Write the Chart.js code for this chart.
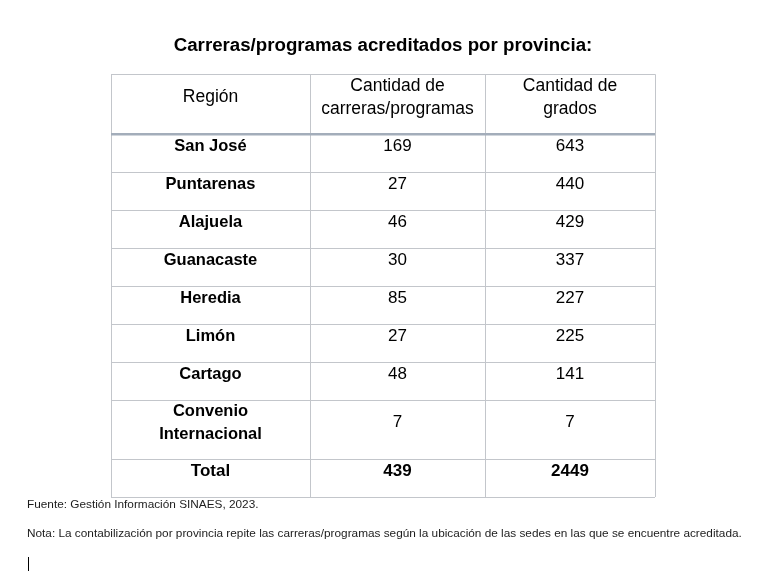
<!DOCTYPE html>
<html lang="es">
<head>
    <meta charset="UTF-8">
    <title>Carreras/programas acreditados por provincia</title>
    <script src="https://cdn.jsdelivr.net/npm/chart.js"></script>
    <style>
        body { margin: 0; background: #fff; }
        #wrap { position: relative; width: 763px; height: 571px; }
        #cursor { position: absolute; left: 28px; top: 557px; width: 1px; height: 14px; background: #000; }
    </style>
</head>
<body>
<div id="wrap">
    <canvas id="tabla" width="763" height="571"></canvas>
    <div id="cursor"></div>
</div>
<script>
    // datos de la tabla
    const encabezados = ['Región', 'Cantidad de\ncarreras/programas', 'Cantidad de\ngrados'];
    const regiones = ['San José', 'Puntarenas', 'Alajuela', 'Guanacaste', 'Heredia', 'Limón', 'Cartago', 'Convenio\nInternacional'];
    const carreras = [169, 27, 46, 30, 85, 27, 48, 7];
    const grados = [643, 440, 429, 337, 227, 225, 141, 7];
    const totales = ['Total', 439, 2449];
    const fuente = 'Fuente: Gestión Información SINAES, 2023.';
    const nota = 'Nota: La contabilización por provincia repite las carreras/programas según la ubicación de las sedes en las que se encuentre acreditada.';

    // bordes de columnas y filas (en unidades de la escala)
    const bordesCol = [0, 199, 374, 544];
    const bordesFila = [0, 60, 98, 136, 174, 212, 250, 288, 326, 385, 423];

    const FAMILIA = "'Liberation Sans', Arial, sans-serif";
    const colMid = c => (bordesCol[c] + bordesCol[c + 1]) / 2;
    const filaMid = r => (bordesFila[r] + bordesFila[r + 1]) / 2;

    const datasets = [
        { label: 'encabezado', fuenteTexto: 'normal 17.5px ' + FAMILIA,
          data: encabezados.map((t, c) => ({ x: colMid(c), y: filaMid(0), t: t })) },
        { label: 'región', fuenteTexto: 'bold 16.5px ' + FAMILIA,
          data: regiones.map((t, r) => ({ x: colMid(0), y: filaMid(r + 1), t: t })) },
        { label: 'carreras', fuenteTexto: 'normal 17px ' + FAMILIA,
          data: carreras.map((v, r) => ({ x: colMid(1), y: filaMid(r + 1), t: v })) },
        { label: 'grados', fuenteTexto: 'normal 17px ' + FAMILIA,
          data: grados.map((v, r) => ({ x: colMid(2), y: filaMid(r + 1), t: v })) },
        { label: 'total', fuenteTexto: 'bold 17px ' + FAMILIA,
          data: totales.map((t, c) => ({ x: colMid(c), y: filaMid(bordesFila.length - 2), t: t })) }
    ];
    datasets.forEach(d => { d.pointRadius = 0; d.pointHoverRadius = 0; });

    const textoCeldas = {
        id: 'textoCeldas',
        afterDatasetsDraw(chart) {
            const ctx = chart.ctx;
            ctx.save();
            ctx.fillStyle = '#000';
            ctx.textAlign = 'center';
            ctx.textBaseline = 'middle';
            chart.data.datasets.forEach((ds, i) => {
                ctx.font = ds.fuenteTexto;
                chart.getDatasetMeta(i).data.forEach((pt, j) => {
                    const lineas = String(ds.data[j].t).split('\n');
                    const alto = 23;
                    const y0 = pt.y - 7 - (lineas.length - 1) * alto / 2;
                    lineas.forEach((l, k) => ctx.fillText(l, pt.x, y0 + k * alto));
                });
            });
            // notas al pie
            ctx.textAlign = 'left';
            ctx.fillStyle = '#1c1c1c';
            ctx.font = 'normal 11.8px ' + FAMILIA;
            ctx.fillText(fuente, 27, 505);
            ctx.fillText(nota, 27, 534);
            ctx.restore();
        }
    };

    const ejeComun = {
        type: 'linear',
        ticks: { display: false },
        border: { display: false }
    };

    new Chart(document.getElementById('tabla'), {
        type: 'scatter',
        data: { datasets: datasets },
        options: {
            responsive: false,
            animation: false,
            events: [],
            layout: { padding: { left: 111, right: 108, top: 0, bottom: 74 } },
            plugins: {
                legend: { display: false },
                tooltip: { enabled: false },
                title: {
                    display: true,
                    text: 'Carreras/programas acreditados por provincia:',
                    color: '#000',
                    font: { family: FAMILIA, size: 18.7, weight: 'bold' },
                    padding: { top: 35, bottom: 16.8 }
                }
            },
            scales: {
                x: Object.assign({}, ejeComun, {
                    min: 0, max: 544,
                    afterBuildTicks: s => { s.ticks = bordesCol.map(v => ({ value: v })); },
                    grid: { drawTicks: false, color: '#c3c6cb', lineWidth: 1 }
                }),
                y: Object.assign({}, ejeComun, {
                    reverse: true,
                    min: 0, max: 423,
                    afterBuildTicks: s => { s.ticks = bordesFila.map(v => ({ value: v })); },
                    grid: {
                        drawTicks: false,
                        color: c => c.index === 1 ? '#a3adba' : '#c3c6cb',
                        lineWidth: c => c.index === 1 ? 2.5 : 1
                    }
                })
            }
        },
        plugins: [textoCeldas]
    });
</script>
</body>
</html>
